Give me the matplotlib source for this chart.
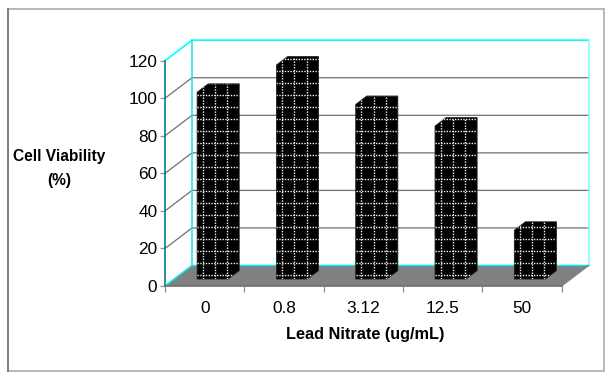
import matplotlib
matplotlib.use("Agg")
import matplotlib.pyplot as plt
from matplotlib.patches import Polygon, Rectangle

categories = ["0", "0.8", "3.12", "12.5", "50"]
viability = [99.5, 114, 93, 81.5, 26]
y_ticks = [0, 20, 40, 60, 80, 100, 120]

W, H = 611, 379
plt.rcParams["font.family"] = ["Liberation Sans", "DejaVu Sans"]

PX_X = 396.5 / 5      # pixels per category
PX_Y = 225.3 / 120    # pixels per percent

# oblique depth of the box, in data units
DX = 27 / PX_X
DY = 20.5 / PX_Y
BAR_W = 31 / PX_X
DEPTH_FRONT = 0.34
DEPTH_BACK = 0.75


def proj(x, y, d):
    return x + DX * d, y + DY * d


fig = plt.figure(figsize=(W / 100, H / 100), dpi=100, facecolor="white")
fig.add_artist(Rectangle((8 / W, 1 - 371 / H), 596 / W, 362 / H, transform=fig.transFigure,
                         facecolor="white", edgecolor="#b8b8b8", linewidth=1.4, zorder=-1))
fig.add_artist(plt.Line2D([8 / W, 8 / W], [1 - 371 / H, 1 - 9 / H], color="#808080", linewidth=1.4, zorder=-0.5))
ax = fig.add_axes([165 / W, (H - 286) / H, 396.5 / W, 225.3 / H])
ax.patch.set_visible(False)
ax.set_xlim(0, 5)
ax.set_ylim(0, 120)


def poly(points, **kw):
    p = Polygon(points, closed=True, clip_on=False, **kw)
    ax.add_patch(p)
    return p


# floor
poly([proj(0, 0, 0), proj(5, 0, 0), proj(5, 0, 1), proj(0, 0, 1)],
     facecolor="#808080", edgecolor="none", zorder=1)

# grid lines: left wall then back wall
for v in y_ticks[1:-1]:
    a, b, c = proj(0, v, 0), proj(0, v, 1), proj(5, v, 1)
    ax.plot([a[0], b[0], c[0]], [a[1], b[1], c[1]], color="#707070", lw=0.9, clip_on=False, zorder=1.5)

# box outline
outline = [proj(0, 0, 0), proj(0, 0, 1), proj(5, 0, 1)]
ax.plot(*zip(*outline), color="#00e8e8", lw=1.1, clip_on=False, zorder=1.6)
outline = [proj(0, 120, 0), proj(0, 120, 1), proj(5, 120, 1), proj(5, 0, 1)]
ax.plot(*zip(*outline[:3]), color="#00ffff", lw=1.2, clip_on=False, zorder=1.6)
ax.plot(*zip(*outline[2:]), color="#80ffff", lw=1.2, clip_on=False, zorder=1.6)
ax.plot(*zip(*[proj(0, 0, 1), proj(0, 120, 1)]), color="#20e0e0", lw=1.1, clip_on=False, zorder=1.6)
ax.plot(*zip(*[proj(5, 0, 0), proj(5, 0, 1)]), color="#808080", lw=1, clip_on=False, zorder=1.6)

DOT = dict(color="#f4f4f4", lw=1.0, linestyle=(0, (1, 1)), zorder=3)

for i, val in enumerate(viability):
    x0 = i + 0.5 - BAR_W / 2 - 0.015
    x1 = x0 + BAR_W
    fb, ft = proj(x0, 0, DEPTH_FRONT), proj(x0, val, DEPTH_FRONT)
    rb, rt = proj(x1, 0, DEPTH_FRONT), proj(x1, val, DEPTH_FRONT)
    bb, bt = proj(x1, 0, DEPTH_BACK), proj(x1, val, DEPTH_BACK)
    lt = proj(x0, val, DEPTH_BACK)
    hull = poly([fb, rb, bb, bt, lt, ft], facecolor="black", edgecolor="#202020", lw=0.6, zorder=2)

    # dotted tile fill: screen-aligned, so it runs straight across front and side
    y = 11 / PX_Y
    while y < 122:
        ax.plot([fb[0], bb[0]], [y, y], clip_path=hull, **DOT)
        y += 12 / PX_Y
    x = fb[0] + 5.7 / PX_X
    while x < bb[0]:
        ax.plot([x, x], [fb[1], lt[1]], clip_path=hull, **DOT)
        x += 12.2 / PX_X

# axes
for side in ("top", "right"):
    ax.spines[side].set_visible(False)
ax.spines["left"].set_color("#008080")
ax.spines["left"].set_linewidth(1.2)
ax.spines["bottom"].set_color("#707070")
ax.spines["bottom"].set_linewidth(1.2)
ax.set_yticks(y_ticks)
ax.set_xticks(range(6))
ax.set_xticklabels([])
ax.set_xticks([i + 0.5 for i in range(5)], categories, minor=True)
ax.tick_params(axis="y", length=3.5, width=0.9, color="#909090", labelsize=12.4, pad=2, labelcolor="black")
ax.tick_params(axis="x", which="major", length=4, width=0.9, color="#909090")
ax.tick_params(axis="x", which="minor", length=0, labelsize=12.4, pad=11, labelcolor="black")

fig.text(59.5 / W, 1 - 157 / H, "Cell Viability", fontsize=11.2, fontweight="bold", ha="center", va="center")
fig.text(59.5 / W, 1 - 180 / H, "(%)", fontsize=11.2, fontweight="bold", ha="center", va="center")
fig.text(365 / W, 1 - 335 / H, "Lead Nitrate (ug/mL)", fontsize=11.7, fontweight="bold", ha="center", va="center")

fig.savefig("out.png", dpi=100)
